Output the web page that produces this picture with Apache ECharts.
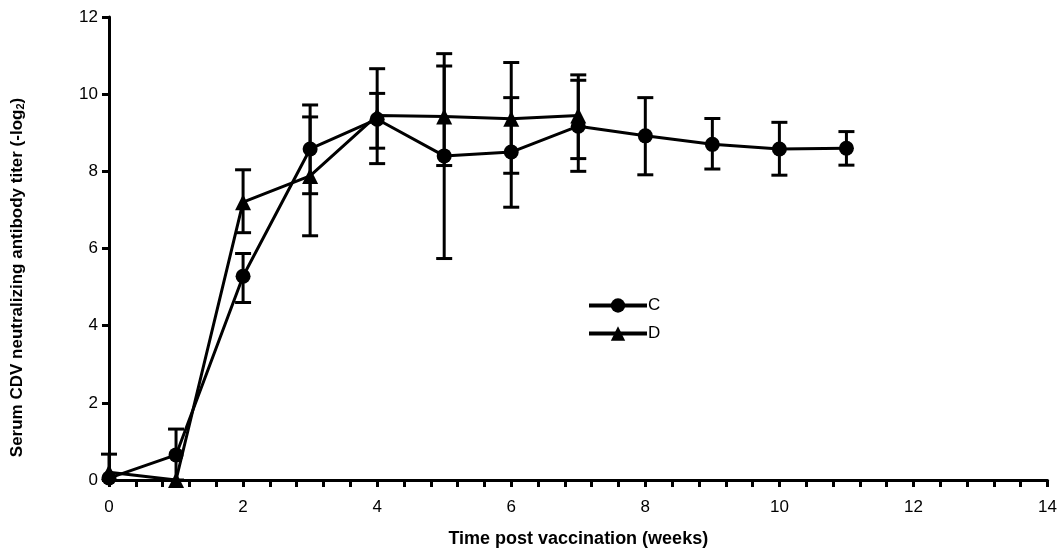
<!DOCTYPE html>
<html><head><meta charset="utf-8">
<script src="https://cdn.jsdelivr.net/npm/echarts@6/dist/echarts.min.js"></script>
<style>html,body{margin:0;padding:0;background:#fff}#c{width:1060px;height:555px}</style>
</head><body><div id="c"></div>
<script>
const xTicks = [0,2,4,6,8,10,12,14];
const yTicks = [0,2,4,6,8,10,12];
const weeksC = [0,1,2,3,4,5,6,7,8,9,10,11];
const titerC = [0.05,0.65,5.28,8.58,9.35,8.4,8.5,9.17,8.92,8.7,8.58,8.6];
const upperC = [0.05,1.32,5.87,9.72,10.02,11.05,9.91,10.36,9.91,9.37,9.27,9.03];
const lowerC = [0.05,0,4.6,7.42,8.6,5.74,7.07,8.0,7.91,8.06,7.9,8.16];
const weeksD = [0,1,2,3,4,5,6,7];
const titerD = [0.2,0,7.2,7.88,9.45,9.42,9.36,9.45];
const upperD = [0.67,0,8.04,9.41,10.66,10.73,10.82,10.5];
const lowerD = [0.2,0,6.41,6.33,8.2,8.15,7.95,8.33];

const FONT = 'Liberation Sans';
function errData(w, v, u, l){ return w.map((x,i)=>[x, v[i], u[i], l[i]]); }
function errRender(params, api){
  const x = api.value(0), v = api.value(1), u = api.value(2), l = api.value(3);
  const pu = api.coord([x,u]), pl = api.coord([x,l]);
  const half = 8;
  const st = {stroke:'#000', lineWidth:3};
  const ch = [];
  ch.push({type:'line', shape:{x1:pu[0],y1:pu[1],x2:pl[0],y2:pl[1]}, style:st});
  if (u !== v) ch.push({type:'line', shape:{x1:pu[0]-half,y1:pu[1],x2:pu[0]+half,y2:pu[1]}, style:st});
  if (l !== v) ch.push({type:'line', shape:{x1:pl[0]-half,y1:pl[1],x2:pl[0]+half,y2:pl[1]}, style:st});
  return {type:'group', children:ch};
}
const chart = echarts.init(document.getElementById('c'), null, {renderer:'canvas'});
chart.setOption({
  animation:false,
  backgroundColor:'#fff',
  grid:{left:109, right:12, top:17, bottom:75, containLabel:false},
  legend:{
    data:['C','D'], orient:'vertical', left:582, top:292, itemWidth:58, itemHeight:18, itemGap:11,
    lineStyle:{width:4, color:'#000'},
    textStyle:{fontFamily:FONT, fontSize:17, color:'#000', padding:[0,0,0,-4]}
  },
  xAxis:{
    type:'value', min:0, max:14, interval:2,
    name:'Time post vaccination (weeks)', nameLocation:'middle', nameGap:50,
    nameTextStyle:{fontFamily:FONT, fontSize:18, fontWeight:'bold', color:'#000'},
    axisLine:{show:true, lineStyle:{color:'#000', width:3}},
    axisTick:{show:true, inside:false, length:7, lineStyle:{color:'#000', width:3}},
    minorTick:{show:true, splitNumber:5, length:7, lineStyle:{color:'#000', width:3}},
    splitLine:{show:false},
    axisLabel:{fontFamily:FONT, fontSize:17, color:'#000', margin:19, formatter:(v)=>xTicks.includes(v)?String(v):''}
  },
  yAxis:{
    type:'value', min:0, max:12, interval:2,
    name:'Serum CDV neutralizing antibody titer (-log{sub|2})', nameLocation:'middle', nameGap:83,
    nameTextStyle:{fontFamily:FONT, fontSize:17, fontWeight:'bold', color:'#000', padding:[0,58,0,0],
      rich:{sub:{fontFamily:FONT, fontSize:11, fontWeight:'bold', color:'#000', verticalAlign:'bottom', padding:[7,0,0,0]}}},
    axisLine:{show:true, lineStyle:{color:'#000', width:3}},
    axisTick:{show:true, inside:false, length:7, lineStyle:{color:'#000', width:3}},
    splitLine:{show:false},
    axisLabel:{fontFamily:FONT, fontSize:17, color:'#000', margin:11, formatter:(v)=>yTicks.includes(v)?String(v):''}
  },
  series:[
    {type:'custom', name:'errC', renderItem:errRender, data:errData(weeksC,titerC,upperC,lowerC), encode:{x:0,y:[1,2,3]}, z:1, clip:false},
    {type:'custom', name:'errD', renderItem:errRender, data:errData(weeksD,titerD,upperD,lowerD), encode:{x:0,y:[1,2,3]}, z:1, clip:false},
    {type:'line', name:'C', data:weeksC.map((x,i)=>[x,titerC[i]]), symbol:'circle', symbolSize:15,
      lineStyle:{color:'#000', width:3}, itemStyle:{color:'#000'}, z:3},
    {type:'line', name:'D', data:weeksD.map((x,i)=>[x,titerD[i]]), symbol:'triangle', symbolSize:16,
      lineStyle:{color:'#000', width:3}, itemStyle:{color:'#000'}, z:3}
  ]
});
</script>
</body></html>
